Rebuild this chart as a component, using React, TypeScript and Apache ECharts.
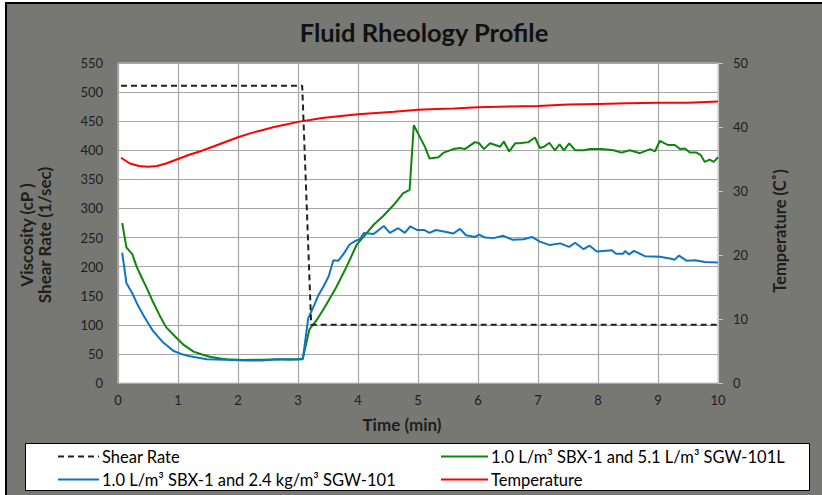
import React, { useEffect, useRef } from "react";
import * as echarts from "echarts";

// ---- Data ----
const shearTime = [0.05, 3.07, 3.22, 10];
const shearRate = [511, 511, 100, 100];

const tempTime = [0.05, 0.2, 0.35, 0.5, 0.65, 0.8, 1.0, 1.2, 1.4, 1.6, 1.8, 2.0, 2.2, 2.4, 2.6, 2.8, 3.0, 3.2, 3.4, 3.6, 3.8, 4.0, 4.3, 4.6, 5.0, 5.3, 5.6, 6.0, 6.5, 7.0, 7.5, 8.0, 8.5, 9.0, 9.5, 10.0];
const tempValue = [35.2, 34.3, 33.9, 33.8, 33.9, 34.3, 35.0, 35.7, 36.3, 37.0, 37.7, 38.4, 39.0, 39.5, 40.0, 40.4, 40.8, 41.1, 41.4, 41.6, 41.8, 42.0, 42.2, 42.4, 42.7, 42.8, 42.9, 43.1, 43.2, 43.3, 43.5, 43.6, 43.7, 43.8, 43.8, 44.0];

const greenTime = [0.07, 0.14, 0.24, 0.31, 0.4, 0.48, 0.58, 0.69, 0.8, 0.98, 1.1, 1.26, 1.4, 1.53, 1.7, 1.81, 2.09, 2.4, 2.76, 3.0, 3.08, 3.19, 3.31, 3.45, 3.64, 3.81, 3.98, 4.13, 4.26, 4.42, 4.62, 4.75, 4.86, 4.93, 5.03, 5.12, 5.19, 5.34, 5.43, 5.59, 5.7, 5.78, 5.95, 6.02, 6.1, 6.2, 6.37, 6.43, 6.52, 6.62, 6.7, 6.84, 6.95, 7.03, 7.1, 7.19, 7.28, 7.36, 7.43, 7.52, 7.62, 7.76, 7.87, 8.06, 8.26, 8.39, 8.53, 8.7, 8.87, 8.95, 9.03, 9.17, 9.28, 9.37, 9.45, 9.53, 9.64, 9.71, 9.78, 9.86, 9.93, 10];
const greenVisc = [275, 233, 221, 200, 180, 163, 140, 117, 96, 77, 65, 54, 49, 45, 42, 41, 39.5, 40, 40.7, 41, 42, 92, 108, 131, 165, 200, 238, 256, 272, 287, 309, 326, 332, 443, 423, 405, 386, 388, 396, 402, 404, 402, 414, 412, 402, 412, 406, 415, 398, 412, 412, 414, 422, 404, 406, 413, 400, 410, 400, 412, 400, 400, 402, 402, 400, 396, 400, 395, 402, 398, 416, 409, 409, 402, 403, 396, 396, 392, 380, 384, 380, 388];

const blueTime = [0.07, 0.14, 0.24, 0.31, 0.42, 0.5, 0.58, 0.74, 0.92, 1.05, 1.2, 1.48, 1.8, 2.14, 2.4, 2.64, 2.85, 3.08, 3.17, 3.27, 3.34, 3.42, 3.51, 3.59, 3.67, 3.76, 3.86, 3.95, 4.03, 4.1, 4.26, 4.43, 4.53, 4.67, 4.78, 4.87, 4.98, 5.1, 5.19, 5.3, 5.45, 5.59, 5.7, 5.8, 5.95, 6.02, 6.12, 6.26, 6.42, 6.58, 6.76, 6.9, 7.03, 7.2, 7.37, 7.52, 7.62, 7.76, 7.86, 7.98, 8.23, 8.3, 8.42, 8.45, 8.52, 8.6, 8.78, 9.03, 9.2, 9.28, 9.35, 9.48, 9.62, 9.78, 10];
const blueVisc = [224, 172, 154, 138, 117, 103, 90, 71, 55.5, 50, 46, 41, 40, 38.5, 38.5, 41, 40, 40.7, 111, 134, 151, 165, 183, 211, 210, 222, 238, 244, 247, 258, 256, 270, 258, 266, 258, 269, 263, 263, 258, 263, 260, 257, 265, 254, 251, 255, 250, 249, 253, 246, 247, 251, 243, 237, 240, 234, 241, 230, 236, 226, 228, 222, 222, 227, 221, 227, 218, 217, 214, 212, 219, 210, 211, 208, 207];

const xTicks = [0, 1, 2, 3, 4, 5, 6, 7, 8, 9, 10];

const NAME_SHEAR = "Shear Rate";
const NAME_BLUE = "1.0 L/m³ SBX-1 and 2.4 kg/m³ SGW-101";
const NAME_GREEN = "1.0 L/m³ SBX-1 and 5.1 L/m³ SGW-101L";
const NAME_TEMP = "Temperature";

const pair = (xs: number[], ys: number[]) => xs.map((x, i) => [x, ys[i]]);

const FONT = "Lato, 'Open Sans', sans-serif";
const TXT = "#1e1e1e";

const legendBase = {
  orient: "vertical",
  top: 448,
  padding: 0,
  itemHeight: 14,
  itemGap: 6,
  z: 5,
  itemStyle: { opacity: 0 },
  textStyle: { fontFamily: FONT, fontSize: 16.5, color: "#000", padding: [0, 0, 0, -2] },
};

export default function App() {
  const ref = useRef<HTMLDivElement>(null);
  useEffect(() => {
    if (!ref.current) return;
    const chart = echarts.init(ref.current, undefined, { renderer: "svg" });
    chart.setOption({
      animation: false,
      backgroundColor: "transparent",
      textStyle: { fontFamily: FONT },
      title: {
        text: "Fluid Rheology Profile",
        left: 419,
        top: 14,
        textAlign: "center",
        textStyle: { fontFamily: FONT, fontSize: 25.5, fontWeight: "bold", color: "#111" },
      },
      graphic: [
        {
          type: "rect",
          z: 0,
          shape: { x: 25.5, y: 443.5, width: 784, height: 47 },
          style: { fill: "#ffffff", stroke: "#000000", lineWidth: 1 },
        },
      ],
      legend: [
        { ...legendBase, data: [NAME_SHEAR, NAME_BLUE], left: 57, itemWidth: 41 },
        { ...legendBase, data: [NAME_GREEN, NAME_TEMP], left: 440, itemWidth: 47 },
      ],
      grid: {
        left: 118,
        right: 104,
        top: 63,
        bottom: 112,
        show: true,
        backgroundColor: "#ffffff",
        borderColor: "#c8c8c8",
        borderWidth: 1,
      },
      xAxis: {
        type: "value",
        min: xTicks[0],
        max: xTicks[xTicks.length - 1],
        interval: 1,
        name: "Time (min)",
        nameLocation: "middle",
        nameGap: 33,
        nameTextStyle: { fontFamily: FONT, fontSize: 17, fontWeight: "bold", color: TXT, padding: [0, 32, 0, 0] },
        axisLine: { show: false },
        axisTick: { show: false },
        axisLabel: { fontFamily: FONT, fontSize: 13, color: TXT, margin: 10 },
        splitLine: { show: true, lineStyle: { color: "#a6a6a6", width: 1.2 } },
      },
      yAxis: [
        {
          type: "value",
          min: 0,
          max: 550,
          interval: 50,
          name: "Viscosity (cP )\nShear Rate (1/sec)",
          nameLocation: "middle",
          nameRotate: 90,
          nameGap: 65,
          nameTextStyle: { fontFamily: FONT, fontSize: 17, fontWeight: "bold", color: TXT, lineHeight: 18, padding: [0, 24, 0, 0] },
          axisLine: { show: false },
          axisTick: { show: false },
          axisLabel: { fontFamily: FONT, fontSize: 13, color: TXT, margin: 15 },
          splitLine: { show: true, lineStyle: { color: "#a6a6a6", width: 1.2 } },
        },
        {
          type: "value",
          min: 0,
          max: 50,
          interval: 10,
          position: "right",
          name: "Temperature (C˚)",
          nameLocation: "middle",
          nameRotate: 90,
          nameGap: 53,
          nameTextStyle: { fontFamily: FONT, fontSize: 16.5, fontWeight: "bold", color: TXT, padding: [0, 16, 0, 0] },
          axisLine: { show: true, lineStyle: { color: "#c8c8c8" } },
          axisTick: { show: true, length: 5, lineStyle: { color: "#c8c8c8" } },
          axisLabel: { fontFamily: FONT, fontSize: 13, color: TXT, margin: 15 },
          splitLine: { show: false },
        },
      ],
      series: [
        {
          name: NAME_SHEAR,
          type: "line",
          data: pair(shearTime, shearRate),
          showSymbol: false,
          symbol: "none",
          lineStyle: { color: "#222222", width: 2, type: [6, 4] },
          itemStyle: { color: "#222222" },
          z: 4,
        },
        {
          name: NAME_BLUE,
          type: "line",
          data: pair(blueTime, blueVisc),
          showSymbol: false,
          symbol: "none",
          lineStyle: { color: "#0f74c6", width: 2 },
          itemStyle: { color: "#0f74c6" },
          z: 3,
        },
        {
          name: NAME_GREEN,
          type: "line",
          data: pair(greenTime, greenVisc),
          showSymbol: false,
          symbol: "none",
          lineStyle: { color: "#0c870c", width: 2 },
          itemStyle: { color: "#0c870c" },
          z: 2,
        },
        {
          name: NAME_TEMP,
          type: "line",
          yAxisIndex: 1,
          data: pair(tempTime, tempValue),
          showSymbol: false,
          symbol: "none",
          lineStyle: { color: "#ff0000", width: 2 },
          itemStyle: { color: "#ff0000" },
          z: 3,
        },
      ],
    });
    return () => chart.dispose();
  }, []);

  return (
    <div style={{ position: "fixed", left: 0, top: 0, width: 822, height: 495, background: "#ffffff", overflow: "hidden" }}>
      <div
        style={{
          position: "absolute",
          left: 5,
          top: 2,
          width: 840,
          height: 520,
          background: "#777873",
          borderTop: "2.5px solid #000",
          borderLeft: "2.5px solid #000",
        }}
      />
      <div ref={ref} style={{ position: "absolute", left: 0, top: 0, width: 822, height: 495 }} />
    </div>
  );
}
